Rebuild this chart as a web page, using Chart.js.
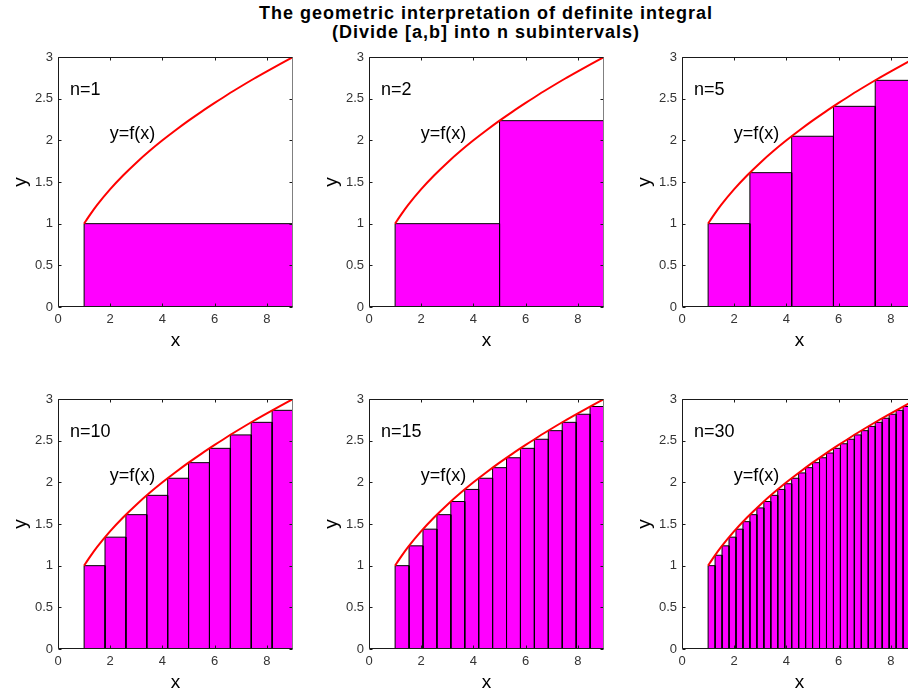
<!DOCTYPE html>
<html>
<head>
<meta charset="utf-8">
<title>Definite integral as a Riemann sum</title>
<script src="https://cdn.jsdelivr.net/npm/chart.js@4.4.1/dist/chart.umd.min.js"></script>
<style>
  html, body { margin: 0; padding: 0; background: #fff; width: 908px; height: 692px; overflow: hidden; }
  #title {
    position: absolute; left: 0; top: 4px; width: 972px; text-align: center;
    font: bold 18px "Liberation Sans", Arial, sans-serif; line-height: 19px; color: #000;
    letter-spacing: 1px;
  }
  canvas { position: absolute; }
</style>
</head>
<body>
<div id="title">The geometric interpretation of definite integral<br>(Divide [a,b] into n subintervals)</div>
<canvas id="p1" width="295" height="308" style="left:8px;top:44px"></canvas>
<canvas id="p2" width="295" height="308" style="left:319px;top:44px"></canvas>
<canvas id="p3" width="295" height="308" style="left:632px;top:44px"></canvas>
<canvas id="p4" width="295" height="308" style="left:8px;top:386px"></canvas>
<canvas id="p5" width="295" height="308" style="left:319px;top:386px"></canvas>
<canvas id="p6" width="295" height="308" style="left:632px;top:386px"></canvas>
<script>
// Interval [a, b] that is split into n equal subintervals
const intervalStart = 1;
const intervalEnd = 9;

// Rectangle heights f(left endpoint) for each partition
const heightsN1 = [1.000];
const heightsN2 = [1.000, 2.236];
const heightsN5 = [1.000, 1.612, 2.049, 2.408, 2.720];
const heightsN10 = [1.000, 1.342, 1.612, 1.844, 2.049, 2.236, 2.408, 2.569, 2.720, 2.864];
const heightsN15 = [1.000, 1.238, 1.438, 1.612, 1.770, 1.915, 2.049, 2.176, 2.295, 2.408,
                    2.517, 2.620, 2.720, 2.817, 2.910];
const heightsN30 = [1.000, 1.125, 1.238, 1.342, 1.438, 1.528, 1.612, 1.693, 1.770, 1.844,
                    1.915, 1.983, 2.049, 2.113, 2.176, 2.236, 2.295, 2.352, 2.408, 2.463,
                    2.517, 2.569, 2.620, 2.671, 2.720, 2.769, 2.817, 2.864, 2.910, 2.955];

// The curve y = f(x)
const curveX = [1, 1.1, 1.25, 1.5, 2, 2.5, 3, 3.5, 4, 4.5, 5, 5.5, 6, 6.5, 7, 7.5, 8, 8.5, 9];
const curveY = [1.000, 1.049, 1.118, 1.225, 1.414, 1.581, 1.732, 1.871, 2.000, 2.121,
                2.236, 2.345, 2.449, 2.550, 2.646, 2.739, 2.828, 2.915, 3.000];

// Axis ticks
const xTicks = [0, 2, 4, 6, 8];
const xTickLabels = ['0', '2', '4', '6', '8'];
const yTicks = [0, 0.5, 1, 1.5, 2, 2.5, 3];
const yTickLabels = ['0', '0.5', '1', '1.5', '2', '2.5', '3'];

const panelLabels = ['n=1', 'n=2', 'n=5', 'n=10', 'n=15', 'n=30'];
const panelHeights = [heightsN1, heightsN2, heightsN5, heightsN10, heightsN15, heightsN30];
const curveLabel = 'y=f(x)';

const FONT = '"Liberation Sans", Arial, Helvetica, sans-serif';

// Axes frame with inward tick marks on all four sides, plus the in-plot annotations
const framePlugin = {
  id: 'frame',
  afterDatasetsDraw(chart) {
    const { ctx, chartArea } = chart;
    const xs = chart.scales.x, ys = chart.scales.y;
    const l = Math.round(chartArea.left) + 0.5;
    const t = Math.round(chartArea.top) + 0.5;
    const r = Math.round(chartArea.right) - 0.5;
    const b = Math.round(chartArea.bottom) - 0.5;
    const tl = 3;
    ctx.save();
    ctx.lineWidth = 1;
    ctx.strokeStyle = '#1a1a1a';
    ctx.beginPath();
    ctx.moveTo(r, t); ctx.lineTo(l, t); ctx.lineTo(l, b); ctx.lineTo(r, b);
    xTicks.forEach(v => {
      const px = Math.round(xs.getPixelForValue(v)) + 0.5;
      ctx.moveTo(px, b); ctx.lineTo(px, b - tl);
      ctx.moveTo(px, t); ctx.lineTo(px, t + tl);
    });
    yTicks.forEach(v => {
      const py = Math.round(ys.getPixelForValue(v)) + 0.5;
      ctx.moveTo(l, py); ctx.lineTo(l + tl, py);
      ctx.moveTo(r, py); ctx.lineTo(r - tl, py);
    });
    ctx.stroke();
    ctx.strokeStyle = '#808080';
    ctx.beginPath();
    ctx.moveTo(r, t); ctx.lineTo(r, b);
    ctx.stroke();

    const opts = chart.options.plugins.frame;
    ctx.fillStyle = '#000';
    ctx.font = '18px ' + FONT;
    ctx.textAlign = 'left';
    ctx.textBaseline = 'middle';
    ctx.fillText(opts.label, xs.getPixelForValue(0.46), ys.getPixelForValue(2.6));
    ctx.fillText(curveLabel, xs.getPixelForValue(1.98), ys.getPixelForValue(2.08));
    ctx.restore();
  }
};

function buildPanel(canvasId, heights, label) {
  const n = heights.length;
  const step = (intervalEnd - intervalStart) / n;
  const datasets = [{
    type: 'line',
    data: curveX.map((x, i) => ({ x, y: curveY[i] })),
    borderColor: '#ff0000',
    borderWidth: 2,
    pointRadius: 0,
    fill: false,
    cubicInterpolationMode: 'monotone',
    order: 0
  }];
  heights.forEach((h, i) => {
    const x0 = intervalStart + i * step;
    const x1 = x0 + step;
    datasets.push({
      type: 'line',
      data: [{ x: x0, y: 0 }, { x: x0, y: h }, { x: x1, y: h }, { x: x1, y: 0 }],
      borderColor: '#000',
      borderWidth: 1,
      backgroundColor: '#ff00ff',
      fill: 'origin',
      pointRadius: 0,
      tension: 0,
      order: 1
    });
  });

  return new Chart(document.getElementById(canvasId), {
    type: 'scatter',
    data: { datasets },
    plugins: [framePlugin],
    options: {
      responsive: false,
      animation: false,
      events: [],
      layout: { padding: { top: 13, right: 10, left: 0, bottom: 0 } },
      plugins: {
        legend: { display: false },
        tooltip: { enabled: false },
        frame: { label }
      },
      scales: {
        x: {
          type: 'linear', min: 0, max: 9,
          afterBuildTicks: s => { s.ticks = xTicks.map(v => ({ value: v })); },
          afterFit: s => { s.height = 45; },
          grid: { display: false, drawTicks: false },
          border: { display: false },
          ticks: {
            padding: 5, color: '#333', maxRotation: 0, autoSkip: false,
            font: { family: FONT, size: 13 },
            callback: (v, i) => xTickLabels[i]
          },
          title: {
            display: true, text: 'x', color: '#000',
            font: { family: FONT, size: 19 }, padding: { top: 0, bottom: 0 }
          }
        },
        y: {
          type: 'linear', min: 0, max: 3,
          afterBuildTicks: s => { s.ticks = yTicks.map(v => ({ value: v })); },
          afterFit: s => { s.width = 50; },
          grid: { display: false, drawTicks: false },
          border: { display: false },
          ticks: {
            padding: 5, color: '#333', autoSkip: false,
            font: { family: FONT, size: 13 },
            callback: (v, i) => yTickLabels[i]
          },
          title: {
            display: true, text: 'y', color: '#000',
            font: { family: FONT, size: 19 }, padding: { top: 1, bottom: 0 }
          }
        }
      }
    }
  });
}

panelHeights.forEach((h, i) => buildPanel('p' + (i + 1), h, panelLabels[i]));
</script>
</body>
</html>
